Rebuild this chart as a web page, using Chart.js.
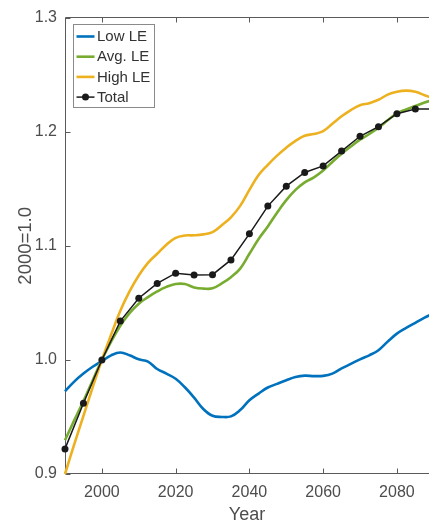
<!DOCTYPE html>
<html><head><meta charset="utf-8">
<script src="https://cdn.jsdelivr.net/npm/chart.js@4.4.1/dist/chart.umd.min.js"></script>
<style>html,body{margin:0;padding:0;background:#fff}</style>
</head><body>
<canvas id="c" width="433" height="526"></canvas>
<script>
const curveYears = [1990,1992.5,1995,1997.5,2000,2002.5,2005,2007.5,2010,2012.5,2015,2017.5,2020,2022.5,2025,2027.5,2030,2032.5,2035,2037.5,2040,2042.5,2045,2047.5,2050,2052.5,2055,2057.5,2060,2062.5,2065,2067.5,2070,2072.5,2075,2077.5,2080,2082.5,2085,2087.5,2090];
const lowLE  = [0.9725,0.981,0.988,0.994,0.999,1.004,1.0065,1.004,1.0005,0.9985,0.992,0.988,0.9835,0.976,0.967,0.957,0.951,0.950,0.9505,0.956,0.9646,0.9705,0.9758,0.979,0.9822,0.985,0.9862,0.9858,0.986,0.988,0.9925,0.9965,1.0005,1.004,1.0085,1.016,1.023,1.028,1.0325,1.037,1.041];
const avgLE  = [0.9296,0.947,0.964,0.982,1.0,1.016,1.030,1.041,1.0493,1.055,1.060,1.064,1.0665,1.0665,1.0635,1.0625,1.0627,1.067,1.0725,1.080,1.093,1.106,1.117,1.129,1.140,1.149,1.1556,1.160,1.166,1.1735,1.1806,1.187,1.193,1.198,1.2035,1.210,1.216,1.2195,1.2225,1.2255,1.228];
const highLE = [0.900,0.926,0.951,0.976,1.0,1.022,1.043,1.060,1.074,1.085,1.093,1.101,1.107,1.109,1.1092,1.110,1.112,1.118,1.125,1.135,1.149,1.162,1.171,1.179,1.186,1.192,1.1965,1.198,1.2005,1.207,1.2135,1.219,1.2232,1.225,1.228,1.2325,1.235,1.236,1.235,1.232,1.229];
const totalYears = [1990,1995,2000,2005,2010,2015,2020,2025,2030,2035,2040,2045,2050,2055,2060,2065,2070,2075,2080,2085,2090];
const totalVals  = [0.922,0.962,1.000,1.034,1.054,1.067,1.076,1.0745,1.0747,1.0876,1.1105,1.1348,1.1523,1.1643,1.170,1.183,1.196,1.2044,1.2158,1.2199,1.220];
const xTickLabels = [2000,2020,2040,2060,2080];
const yTickLabels = [0.9,1.0,1.1,1.2,1.3];
const seriesNames = ['Low LE','Avg. LE','High LE','Total'];
const seriesColors = ['#0072BD','#77AC30','#EDB120','#1a1a1a'];

const FONT = "'Liberation Sans', Arial, sans-serif";
const TEXT = '#4d4d4d';
const toXY = (xs, ys) => xs.map((x, i) => ({x: x, y: ys[i]}));
const CLIP = {left: 10, top: 10, right: 0, bottom: 10};

const axesPlugin = {
  id: 'axesBox',
  beforeDatasetsDraw(chart) {
    const {ctx, chartArea: a, scales: {x, y}} = chart;
    ctx.save();
    ctx.strokeStyle = '#5a5a5a';
    ctx.lineWidth = 1;
    const L = Math.round(a.left) + 0.5, B = Math.round(a.bottom) - 0.5, T = Math.round(a.top) - 0.5, R = a.right;
    ctx.beginPath();
    ctx.moveTo(R, T); ctx.lineTo(L, T); ctx.lineTo(L, B); ctx.lineTo(R, B);
    xTickLabels.forEach(v => {
      const px = Math.round(x.getPixelForValue(v)) + 0.5;
      ctx.moveTo(px, B); ctx.lineTo(px, B - 5);
      ctx.moveTo(px, T); ctx.lineTo(px, T + 5);
    });
    yTickLabels.forEach(v => {
      const py = Math.round(y.getPixelForValue(v)) + 0.5;
      ctx.moveTo(L, py); ctx.lineTo(L + 5, py);
    });
    ctx.stroke();
    ctx.restore();
  }
};

const legendPlugin = {
  id: 'boxLegend',
  afterDraw(chart) {
    const ctx = chart.ctx;
    ctx.save();
    ctx.fillStyle = '#fff';
    ctx.fillRect(73.5, 24.5, 81, 83);
    ctx.strokeStyle = '#8a8a8a';
    ctx.lineWidth = 1;
    ctx.strokeRect(73.5, 24.5, 81, 83);
    ctx.font = '15px ' + FONT;
    ctx.textBaseline = 'middle';
    ctx.textAlign = 'left';
    chart.data.datasets.forEach((ds, i) => {
      const yy = 36.5 + i * 20.2;
      ctx.strokeStyle = ds.borderColor;
      ctx.lineWidth = ds.borderWidth;
      ctx.beginPath(); ctx.moveTo(76.5, yy); ctx.lineTo(94.5, yy); ctx.stroke();
      if (ds.pointRadius > 0) {
        ctx.fillStyle = ds.backgroundColor;
        ctx.beginPath(); ctx.arc(85.5, yy, ds.pointRadius, 0, Math.PI * 2); ctx.fill();
      }
      ctx.fillStyle = '#333';
      ctx.fillText(ds.label, 97, yy + 0.5);
    });
    ctx.restore();
  }
};

new Chart(document.getElementById('c'), {
  type: 'line',
  data: {
    datasets: [
      {label: seriesNames[0], data: toXY(curveYears, lowLE), borderColor: seriesColors[0], borderWidth: 2.6, pointRadius: 0, tension: 0.4, order: 4, clip: CLIP},
      {label: seriesNames[1], data: toXY(curveYears, avgLE), borderColor: seriesColors[1], borderWidth: 2.6, pointRadius: 0, tension: 0.4, order: 3, clip: CLIP},
      {label: seriesNames[2], data: toXY(curveYears, highLE), borderColor: seriesColors[2], borderWidth: 2.6, pointRadius: 0, tension: 0.4, order: 2, clip: CLIP},
      {label: seriesNames[3], data: toXY(totalYears, totalVals), borderColor: seriesColors[3], backgroundColor: seriesColors[3], borderWidth: 1.5, pointRadius: 3.5, pointBorderWidth: 0, tension: 0, order: 1, clip: CLIP}
    ]
  },
  options: {
    responsive: false,
    animation: false,
    events: [],
    layout: {padding: {top: 16, left: 0, right: 0, bottom: 0}},
    plugins: {legend: {display: false}, tooltip: {enabled: false}},
    scales: {
      x: {
        type: 'linear', min: 1990, max: 2088.7,
        grid: {display: false, drawTicks: false},
        border: {display: false},
        afterBuildTicks: s => { s.ticks = xTickLabels.map(v => ({value: v})); },
        afterFit: s => { s.height = 52; },
        ticks: {font: {family: FONT, size: 16}, color: TEXT, padding: 9, maxRotation: 0, autoSkip: false, callback: v => String(v)},
        title: {display: true, text: 'Year', font: {family: FONT, size: 18}, color: TEXT, padding: {top: 0, bottom: 0}}
      },
      y: {
        type: 'linear', min: 0.9, max: 1.3,
        grid: {display: false, drawTicks: false},
        border: {display: false},
        afterBuildTicks: s => { s.ticks = yTickLabels.map(v => ({value: v})); },
        afterFit: s => { s.width = 65; },
        ticks: {font: {family: FONT, size: 16}, color: TEXT, padding: 8, autoSkip: false, callback: v => Number(v).toFixed(1)},
        title: {display: true, text: '2000=1.0', font: {family: FONT, size: 18.5}, color: TEXT, padding: {top: 15, bottom: 0}}
      }
    }
  },
  plugins: [axesPlugin, legendPlugin]
});
</script>
</body></html>
